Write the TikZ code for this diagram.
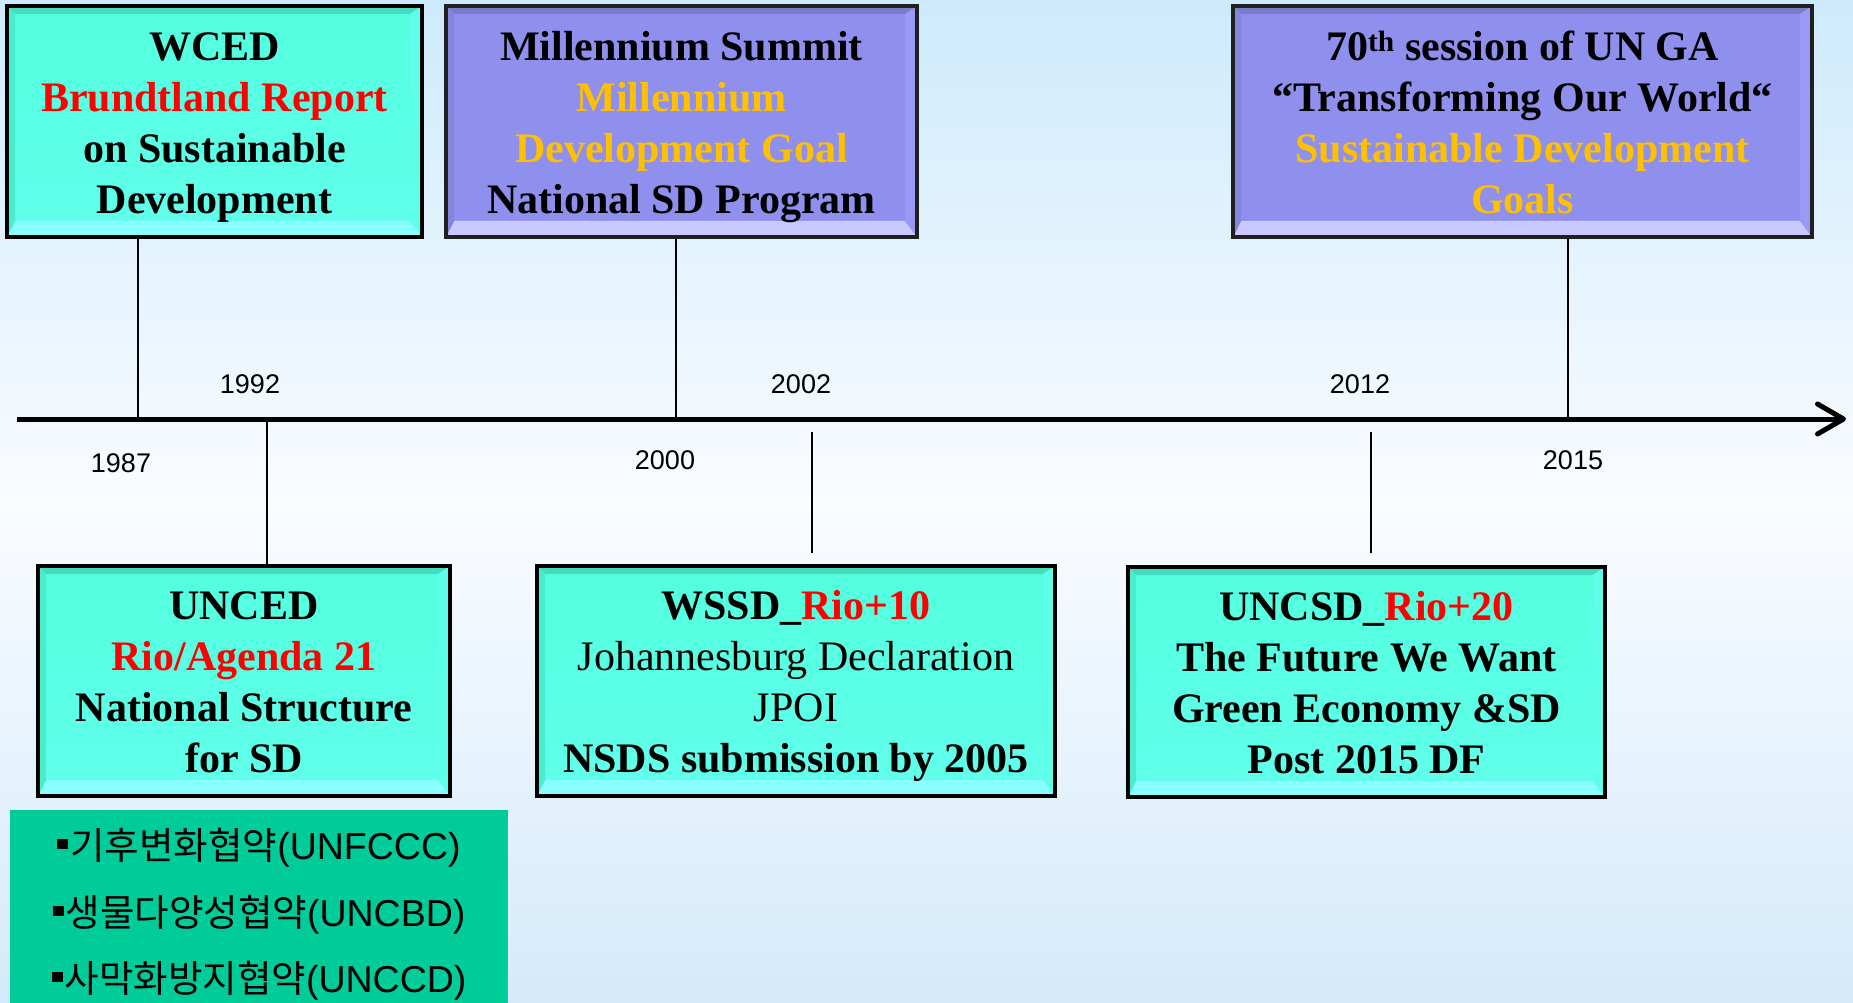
\documentclass[tikz,border=0pt]{standalone}
\usepackage{fontspec}
\usetikzlibrary{arrows.meta}
\setmainfont{Liberation Serif}
\newfontfamily\arial{Liberation Sans}
\newfontfamily\kr{Noto Sans CJK KR}
\definecolor{tealface}{HTML}{52FFDD}
\definecolor{tealfacebot}{HTML}{62FFEC}
\definecolor{tealtop}{HTML}{44DCBC}
\definecolor{tealbot}{HTML}{8AFFFF}
\definecolor{tealleft}{HTML}{49EDCC}
\definecolor{tealright}{HTML}{5EFFE8}
\definecolor{purface}{HTML}{8F8FEE}
\definecolor{purtop}{HTML}{7B7BCB}
\definecolor{purbot}{HTML}{C9C9FF}
\definecolor{purleft}{HTML}{8585DD}
\definecolor{purright}{HTML}{9A9AF6}
\definecolor{purborder}{HTML}{202020}
\definecolor{krgreen}{HTML}{00CC99}
\definecolor{gold}{HTML}{FFC000}
\definecolor{bgtop}{HTML}{CDEAFC}
\definecolor{bgmid}{HTML}{FAFCFF}
\definecolor{bgbot}{HTML}{D4EAFA}
\newcommand\bxtext[1]{\begin{tabular}{@{}c@{}}\rule{0pt}{46pt}#1\end{tabular}}
\newcommand\krbullet{\raisebox{10pt}{\rule{11pt}{10pt}}\hspace{2pt}}
\tikzset{
  bevel/.style n args={4}{
    path picture={
      \path (path picture bounding box.north west) coordinate (bNW)
            (path picture bounding box.north east) coordinate (bNE)
            (path picture bounding box.south east) coordinate (bSE)
            (path picture bounding box.south west) coordinate (bSW);
      \coordinate (iNW) at ([shift={(8pt,-8pt)}]bNW);
      \coordinate (iNE) at ([shift={(-12pt,-8pt)}]bNE);
      \coordinate (iSE) at ([shift={(-12pt,16pt)}]bSE);
      \coordinate (iSW) at ([shift={(8pt,16pt)}]bSW);
      \fill[#1] (bNW) -- (bNE) -- (iNE) -- (iNW) -- cycle;
      \fill[#2] (bSW) -- (bSE) -- (iSE) -- (iSW) -- cycle;
      \fill[#3] (bNW) -- (iNW) -- (iSW) -- (bSW) -- cycle;
      \fill[#4] (bNE) -- (iNE) -- (iSE) -- (bSE) -- cycle;
    }},
  boxfont/.style={font=\fontsize{42}{51}\selectfont\bfseries},
  tealbox/.style={draw=black, line width=3.5pt, top color=tealface, bottom color=tealfacebot,
    inner sep=0pt, align=center, boxfont, bevel={tealtop}{tealbot}{tealleft}{tealright}},
  purbox/.style={draw=purborder, line width=3.5pt, fill=purface,
    inner sep=0pt, align=center, boxfont, bevel={purtop}{purbot}{purleft}{purright}},
  yearlbl/.style={font=\arial\fontsize{27}{30}\selectfont, inner sep=0pt},
  krtext/.style={font=\arial\fontsize{37.5}{40}\selectfont, inner sep=0pt, anchor=base},
  tick/.style={line width=2pt, draw=black},
  axis/.style={line width=5pt, draw=black, -{Straight Barb[length=26pt,width=30pt,round]}}
}
\begin{document}
\begin{tikzpicture}[x=1pt,y=-1pt]
\useasboundingbox (0,0) rectangle (1853,1003);
\fill[top color=bgtop, bottom color=bgbot, middle color=bgmid] (0,0) rectangle (1853,1003);

% Korean box
\node[fill=krgreen, draw=none, minimum width=498pt, minimum height=193pt, inner sep=0pt] (krbox) at (259,906.5) {};
\node[krtext] (kr1) at (259,859) {\krbullet{\kr 기후변화협약}(UNFCCC)};
\node[krtext] (kr2) at (259,926) {\krbullet{\kr 생물다양성협약}(UNCBD)};
\node[krtext] (kr3) at (259,992) {\krbullet{\kr 사막화방지협약}(UNCCD)};

% boxes
\node[tealbox, minimum width=415pt, minimum height=231pt] (wced) at (214.5,121.5)
  {\bxtext{WCED\\ \textcolor{red}{Brundtland Report}\\ on Sustainable\\ Development}};
\node[purbox, minimum width=471pt, minimum height=231pt] (mill) at (681.5,121.5)
  {\bxtext{Millennium Summit\\ \textcolor{gold}{Millennium}\\ \textcolor{gold}{Development Goal}\\ National SD Program}};
\node[purbox, minimum width=579pt, minimum height=231pt] (unga) at (1522.5,121.5)
  {\bxtext{70\textsuperscript{th} session of UN GA\\ “Transforming Our World“\\ \textcolor{gold}{Sustainable Development}\\ \textcolor{gold}{Goals}}};
\node[tealbox, minimum width=412pt, minimum height=230pt] (unced) at (244,681)
  {\bxtext{UNCED\\ \textcolor{red}{Rio/Agenda 21}\\ National Structure\\ for SD}};
\node[tealbox, minimum width=518pt, minimum height=230pt] (wssd) at (796,681)
  {\bxtext{WSSD\_\textcolor{red}{Rio+10}\\ {\mdseries Johannesburg Declaration}\\ {\mdseries JPOI}\\ NSDS submission by 2005}};
\node[tealbox, minimum width=477pt, minimum height=230pt] (uncsd) at (1366.5,682)
  {\bxtext{UNCSD\_\textcolor{red}{Rio+20}\\ The Future We Want\\ Green Economy \&SD\\ Post 2015 DF}};

% timeline
\coordinate (tl0) at (17,419);
\coordinate (tl1) at (1846,419);
\coordinate (t1987) at (138,419);
\coordinate (t1992) at (267,419);
\coordinate (t2000) at (676,419);
\coordinate (t2015) at (1568,419);
\coordinate (c2002a) at (812,432);
\coordinate (c2002b) at (812,553);
\coordinate (c2012a) at (1371,432);
\coordinate (c2012b) at (1371,553);

\draw[tick] (wced.south -| t1987) -- (t1987);
\draw[tick] (t1992) -- (unced.north -| t1992);
\draw[tick] (mill.south -| t2000) -- (t2000);
\draw[tick] (unga.south -| t2015) -- (t2015);
\draw[tick] (c2002a) -- (c2002b);
\draw[tick] (c2012a) -- (c2012b);
\draw[axis] (tl0) -- (tl1);

% years
\node[yearlbl] (y1992) at (250,384) {1992};
\node[yearlbl] (y1987) at (121,463) {1987};
\node[yearlbl] (y2000) at (665,460) {2000};
\node[yearlbl] (y2002) at (801,384) {2002};
\node[yearlbl] (y2012) at (1360,384) {2012};
\node[yearlbl] (y2015) at (1573,460) {2015};
\end{tikzpicture}
\end{document}
